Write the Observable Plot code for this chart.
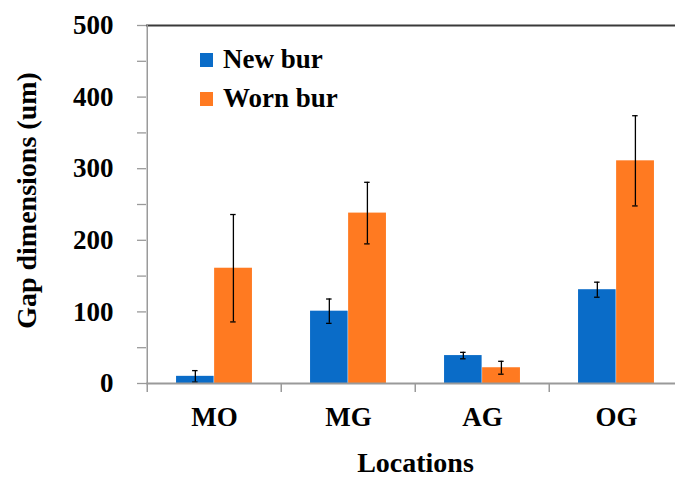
<!DOCTYPE html>
<html><head><meta charset="utf-8">
<script src="https://cdn.jsdelivr.net/npm/d3@7"></script>
<script src="https://cdn.jsdelivr.net/npm/@observablehq/plot@0.6"></script>
<style>
html,body{margin:0;padding:0;background:#fff;overflow:hidden;width:675px;height:477px}
#wrap{position:relative;width:675px;height:477px;overflow:hidden}
#legend{position:absolute;left:200px;top:40px;font-weight:bold;font-size:27px;font-family:"Liberation Serif",Tinos,"Times New Roman","DejaVu Serif",serif;color:#000}
.row{display:flex;align-items:center;height:39px;white-space:nowrap}
.sw{width:13px;height:14px;margin-right:10px}
</style></head><body><div id="wrap"><div id="legend"></div></div>
<script>
const categories = ["MO", "MG", "AG", "OG"];
const seriesNames = ["New bur", "Worn bur"];
const newBur = [10, 101, 39, 131];
const newBurErr = [8, 17, 4.5, 10.5];
const wornBur = [161, 238, 22, 311];
const wornBurErr = [75, 43, 9, 63];
const yTicks = [0, 100, 200, 300, 400, 500];
const yMinorTicks = [50, 150, 250, 350, 450];
const colors = ["#0a6cc8", "#ff7a21"];

const W = 675, H = 477, mL = 146, mR = -9, mT = 25, mB = 94;
const bw = (W - mL - mR) / categories.length;
const barW = bw * 0.283, outer = bw * 0.216;
const cap = 3;
const gray = "#9a9a9a";
const font = "'Liberation Serif', Tinos, 'Times New Roman', 'DejaVu Serif', serif";

const newRows = categories.map((c, i) => ({loc: c, v: newBur[i], e: newBurErr[i]}));
const wornRows = categories.map((c, i) => ({loc: c, v: wornBur[i], e: wornBurErr[i]}));

const offNew = outer + barW / 2 - bw / 2;
const offWorn = outer + barW * 1.5 - bw / 2;

const chart = Plot.plot({
  width: W, height: H,
  marginLeft: mL, marginRight: mR, marginTop: mT, marginBottom: mB,
  style: {fontFamily: font, fontWeight: "bold", color: "#000", background: "#fff", overflow: "hidden"},
  x: {type: "band", domain: categories, padding: 0},
  y: {domain: [0, 500], nice: false},
  marks: [
    Plot.barY(newRows, {x: "loc", y: "v", fill: colors[0], insetLeft: outer, insetRight: bw - outer - barW}),
    Plot.barY(wornRows, {x: "loc", y: "v", fill: colors[1], insetLeft: outer + barW, insetRight: outer}),
    Plot.ruleX(newRows, {x: "loc", y1: d => d.v - d.e, y2: d => d.v + d.e, dx: offNew, stroke: "#000", strokeWidth: 1.3}),
    Plot.ruleX(wornRows, {x: "loc", y1: d => d.v - d.e, y2: d => d.v + d.e, dx: offWorn, stroke: "#000", strokeWidth: 1.3}),
    ...[newRows, wornRows].flatMap((rows, k) => {
      const c = k === 0 ? offNew + bw / 2 : offWorn + bw / 2;
      const o = {x: "loc", stroke: "#000", strokeWidth: 1.3, insetLeft: c - cap, insetRight: bw - c - cap};
      return [
        Plot.tickY(rows, {...o, y: d => d.v + d.e}),
        Plot.tickY(rows, {...o, y: d => d.v - d.e})
      ];
    }),
    Plot.ruleY([0], {stroke: gray, strokeWidth: 2}),
    Plot.ruleY([500], {stroke: "#3a3a3a", strokeWidth: 2}),
    Plot.ruleX([categories[0]], {dx: -bw / 2, y1: 0, y2: 500, stroke: gray, strokeWidth: 1.5}),
    Plot.axisX({tickSize: 9, tickFormat: () => "", dx: -bw / 2, stroke: gray, strokeWidth: 1.5, label: null}),
    Plot.text(categories, {x: d => d, frameAnchor: "bottom", dy: 34, fontSize: 27, fontWeight: "bold", fill: "#000", lineAnchor: "middle"}),
    Plot.axisY({ticks: yTicks, tickSize: 9, tickPadding: 24, fontSize: 27, fontWeight: "bold", stroke: gray, strokeWidth: 1.3, label: null, fill: "#000"}),
    Plot.axisY({ticks: yMinorTicks, tickSize: 9, tickFormat: () => "", stroke: gray, strokeWidth: 1.3, label: null}),
    Plot.text(["Gap dimensions (um)"], {frameAnchor: "left", rotate: -90, dx: -119, dy: -4, fontSize: 28, fontWeight: "bold", fill: "#000", textAnchor: "middle", lineAnchor: "middle"}),
    Plot.text(["Locations"], {frameAnchor: "bottom", dx: 0, dy: 80, fontSize: 28, fontWeight: "bold", fill: "#000", textAnchor: "middle", lineAnchor: "middle"})
  ]
});
document.getElementById("wrap").prepend(chart);

const legend = document.getElementById("legend");
seriesNames.forEach((name, i) => {
  const row = document.createElement("div");
  row.className = "row";
  const sw = document.createElement("span");
  sw.className = "sw";
  sw.style.background = colors[i];
  const t = document.createElement("span");
  t.textContent = name;
  row.append(sw, t);
  legend.append(row);
});
</script></body></html>
